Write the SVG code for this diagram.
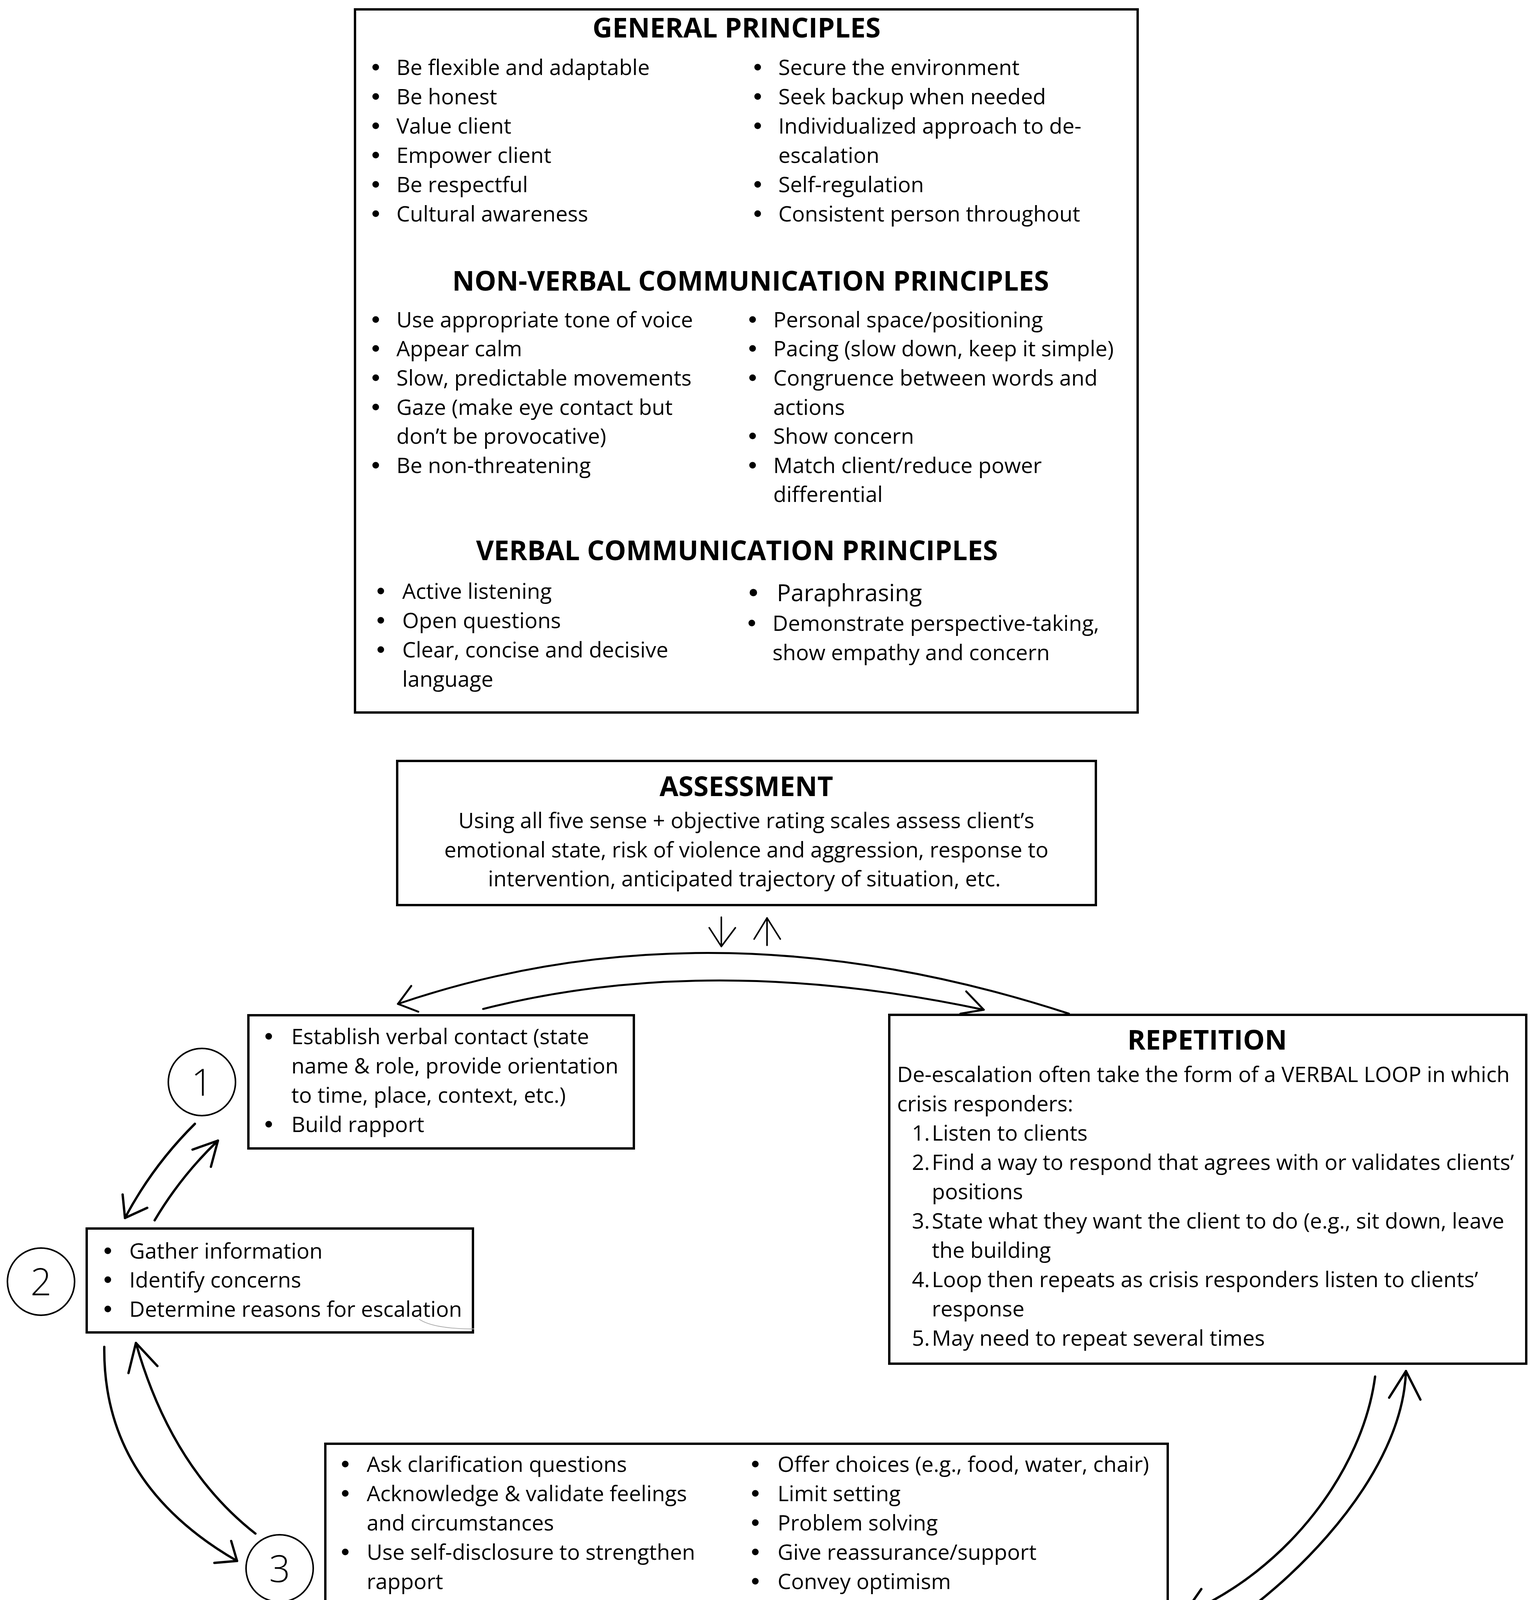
<svg xmlns="http://www.w3.org/2000/svg" width="3933" height="5285" viewBox="0 0 3933 5285">
<style>
.bg{fill:#fff}
.box{fill:#fff;stroke:#000;stroke-width:6}
text{font-family:"Open Sans","Noto Sans","Liberation Sans",sans-serif;font-size:55px;fill:#000}
.h{font-weight:bold;font-size:70px;text-anchor:middle}
.c{text-anchor:middle}
.num{font-size:95px;font-weight:300;text-anchor:middle}
.dot{fill:#000}
.circ{fill:#fff;stroke:#000;stroke-width:4}
.ln{fill:none;stroke:#000;stroke-width:6;stroke-linecap:round;stroke-linejoin:round}
.thin{fill:none;stroke:#000;stroke-width:4;stroke-linecap:round;stroke-linejoin:round}
</style>
<rect class="bg" x="0" y="0" width="3933" height="5285"/>

<g id="principles">
<rect class="box" x="909" y="24" width="2004" height="1800"/>
<text class="h" x="1886" y="96">GENERAL PRINCIPLES</text>
<circle class="dot" cx="962" cy="172" r="8.5"/><text x="1015" y="192">Be flexible and adaptable</text>
<circle class="dot" cx="962" cy="247" r="8.5"/><text x="1015" y="267">Be honest</text>
<circle class="dot" cx="962" cy="322" r="8.5"/><text x="1015" y="342">Value client</text>
<circle class="dot" cx="962" cy="397" r="8.5"/><text x="1015" y="417">Empower client</text>
<circle class="dot" cx="962" cy="472" r="8.5"/><text x="1015" y="492">Be respectful</text>
<circle class="dot" cx="962" cy="547" r="8.5"/><text x="1015" y="567">Cultural awareness</text>
<circle class="dot" cx="1940" cy="172" r="8.5"/><text x="1993" y="192">Secure the environment</text>
<circle class="dot" cx="1940" cy="247" r="8.5"/><text x="1993" y="267">Seek backup when needed</text>
<circle class="dot" cx="1940" cy="322" r="8.5"/><text x="1993" y="342">Individualized approach to de-</text>
<text x="1993" y="417">escalation</text>
<circle class="dot" cx="1940" cy="472" r="8.5"/><text x="1993" y="492">Self-regulation</text>
<circle class="dot" cx="1940" cy="547" r="8.5"/><text x="1993" y="567">Consistent person throughout</text>

<text class="h" x="1922" y="744">NON-VERBAL COMMUNICATION PRINCIPLES</text>
<circle class="dot" cx="962" cy="818" r="8.5"/><text x="1015" y="838">Use appropriate tone of voice</text>
<circle class="dot" cx="962" cy="892" r="8.5"/><text x="1015" y="912">Appear calm</text>
<circle class="dot" cx="962" cy="967" r="8.5"/><text x="1015" y="987">Slow, predictable movements</text>
<circle class="dot" cx="962" cy="1042" r="8.5"/><text x="1015" y="1062">Gaze (make eye contact but</text>
<text x="1015" y="1136">don’t be provocative)</text>
<circle class="dot" cx="962" cy="1191" r="8.5"/><text x="1015" y="1211">Be non-threatening</text>
<circle class="dot" cx="1927" cy="818" r="8.5"/><text x="1980" y="838">Personal space/positioning</text>
<circle class="dot" cx="1927" cy="892" r="8.5"/><text x="1980" y="912">Pacing (slow down, keep it simple)</text>
<circle class="dot" cx="1927" cy="967" r="8.5"/><text x="1980" y="987">Congruence between words and</text>
<text x="1980" y="1062">actions</text>
<circle class="dot" cx="1927" cy="1116" r="8.5"/><text x="1980" y="1136">Show concern</text>
<circle class="dot" cx="1927" cy="1191" r="8.5"/><text x="1980" y="1211">Match client/reduce power</text>
<text x="1980" y="1285">differential</text>

<text class="h" x="1887" y="1434">VERBAL COMMUNICATION PRINCIPLES</text>
<circle class="dot" cx="975" cy="1513" r="8.5"/><text x="1030" y="1533">Active listening</text>
<circle class="dot" cx="975" cy="1588" r="8.5"/><text x="1030" y="1608">Open questions</text>
<circle class="dot" cx="975" cy="1663" r="8.5"/><text x="1030" y="1683">Clear, concise and decisive</text>
<text x="1030" y="1758">language</text>
<circle class="dot" cx="1929" cy="1517" r="9.5"/><text x="1989" y="1539" style="font-size:60px">Paraphrasing</text>
<circle class="dot" cx="1925" cy="1595" r="8.5"/><text x="1978" y="1615">Demonstrate perspective-taking,</text>
<text x="1978" y="1690">show empathy and concern</text>
</g>

<g id="assessment">
<rect class="box" x="1017" y="1948" width="1789" height="369"/>
<text class="h" x="1911" y="2038">ASSESSMENT</text>
<text class="c" x="1911" y="2120">Using all five sense + objective rating scales assess client’s</text>
<text class="c" x="1911" y="2195">emotional state, risk of violence and aggression, response to</text>
<text class="c" x="1906" y="2269">intervention, anticipated trajectory of situation, etc.</text>
</g>

<g id="step1">
<rect class="box" x="636" y="2599" width="987" height="341"/>
<circle class="dot" cx="688" cy="2653" r="8.5"/><text x="746" y="2673">Establish verbal contact (state</text>
<text x="746" y="2748">name &amp; role, provide orientation</text>
<text x="746" y="2823">to time, place, context, etc.)</text>
<circle class="dot" cx="688" cy="2878" r="8.5"/><text x="746" y="2898">Build rapport</text>
</g>
<g id="circle1">
<circle class="circ" cx="517" cy="2770" r="86"/>
<text class="num" x="517" y="2805">1</text>
</g>

<g id="step2">
<rect class="box" x="222" y="3145" width="989" height="266"/>
<circle class="dot" cx="276" cy="3202" r="8.5"/><text x="331" y="3222">Gather information</text>
<circle class="dot" cx="276" cy="3276" r="8.5"/><text x="331" y="3296">Identify concerns</text>
<circle class="dot" cx="276" cy="3351" r="8.5"/><text x="331" y="3371">Determine reasons for escalation</text>
<path d="M1073,3377 Q1110,3402 1214,3402" fill="none" stroke="#aaa" stroke-width="2"/>
</g>
<g id="circle2">
<circle class="circ" cx="105" cy="3281" r="86"/>
<text class="num" x="105" y="3316">2</text>
</g>

<g id="repetition">
<rect class="box" x="2277" y="2598" width="1631" height="893"/>
<text class="h" x="3091" y="2687">REPETITION</text>
<text x="2297" y="2770">De-escalation often take the form of a VERBAL LOOP in which</text>
<text x="2297" y="2845">crisis responders:</text>
<text x="2335" y="2920">1.</text><text x="2386" y="2920">Listen to clients</text>
<text x="2335" y="2995">2.</text><text x="2386" y="2995">Find a way to respond that agrees with or validates clients’</text>
<text x="2386" y="3070">positions</text>
<text x="2335" y="3145">3.</text><text x="2386" y="3145">State what they want the client to do (e.g., sit down, leave</text>
<text x="2386" y="3220">the building</text>
<text x="2335" y="3295">4.</text><text x="2386" y="3295">Loop then repeats as crisis responders listen to clients’</text>
<text x="2386" y="3370">response</text>
<text x="2335" y="3445">5.</text><text x="2386" y="3445">May need to repeat several times</text>
</g>

<g id="step3">
<rect class="box" x="833" y="3696" width="2157" height="635"/>
<circle class="dot" cx="884" cy="3748" r="8.5"/><text x="939" y="3768">Ask clarification questions</text>
<circle class="dot" cx="884" cy="3823" r="8.5"/><text x="939" y="3843">Acknowledge &amp; validate feelings</text>
<text x="939" y="3918">and circumstances</text>
<circle class="dot" cx="884" cy="3973" r="8.5"/><text x="939" y="3993">Use self-disclosure to strengthen</text>
<text x="939" y="4068">rapport</text>
<circle class="dot" cx="884" cy="4123" r="8.5"/><text x="939" y="4143">Agree when possible or agree to</text>
<text x="939" y="4218">disagree; fogging</text>
<circle class="dot" cx="884" cy="4273" r="8.5"/><text x="939" y="4293">Redirection/distraction</text>
<circle class="dot" cx="1934" cy="3748" r="8.5"/><text x="1991" y="3768">Offer choices (e.g., food, water, chair)</text>
<circle class="dot" cx="1934" cy="3823" r="8.5"/><text x="1991" y="3843">Limit setting</text>
<circle class="dot" cx="1934" cy="3898" r="8.5"/><text x="1991" y="3918">Problem solving</text>
<circle class="dot" cx="1934" cy="3973" r="8.5"/><text x="1991" y="3993">Give reassurance/support</text>
<circle class="dot" cx="1934" cy="4048" r="8.5"/><text x="1991" y="4068">Convey optimism</text>
<circle class="dot" cx="1934" cy="4123" r="8.5"/><text x="1991" y="4143">Coaching &amp; guidance</text>
<circle class="dot" cx="1934" cy="4198" r="8.5"/><text x="1991" y="4218">Use humour</text>
<circle class="dot" cx="1934" cy="4273" r="8.5"/><text x="1991" y="4293">Therapeutic lies</text>
</g>
<g id="circle3">
<circle class="circ" cx="716" cy="4015" r="86"/>
<text class="num" x="716" y="4050">3</text>
</g>

<g id="goal">
<rect class="box" x="832" y="4550" width="2158" height="311"/>
<text class="h" x="1905" y="4649">GOAL</text>
<circle class="dot" cx="887" cy="4712" r="8.5"/><text x="940" y="4732">Enable agitated clients to rapidly develop their own internal locus of control</text>
<circle class="dot" cx="887" cy="4787" r="8.5"/><text x="940" y="4807">Consider objectives and interests of client + crisis responder</text>
</g>

<g id="debrief">
<rect class="box" x="1547" y="5073" width="729" height="194"/>
<circle class="dot" cx="1603" cy="5130" r="8.5"/><text x="1658" y="5150">Debrief with client and</text>
<text x="1658" y="5225">staff when possible</text>
</g>

<g id="connectors">
<line class="thin" x1="1847" y1="2348" x2="1847" y2="2423"/>
<polyline class="thin" points="1816,2375 1847,2423 1883,2375"/>
<line class="thin" x1="1964" y1="2420" x2="1964" y2="2350"/>
<polyline class="thin" points="1931,2404 1964,2350 1998,2404"/>
<path class="ln" style="stroke-width:5" d="M2737,2595 Q1822,2297 1019,2570"/>
<polyline class="ln" style="stroke-width:5" points="1053,2524 1019,2570 1071,2590"/>
<path class="ln" style="stroke-width:5" d="M1237,2583 Q1816,2436 2519,2585"/>
<polyline class="ln" style="stroke-width:5" points="2474,2538 2519,2585 2459,2595"/>
<path class="ln" d="M499,2877 Q391,2984 320,3118"/>
<polyline class="ln" points="314,3058 320,3118 377,3092"/>
<path class="ln" d="M396,3124 Q463,3011 558,2920"/>
<polyline class="ln" points="493,2943 558,2920 540,2987"/>
<path class="ln" d="M267,3448 Q263,3798 607,3996"/>
<polyline class="ln" points="549,4001 607,3996 592,3945"/>
<path class="ln" d="M654,3926 Q439,3758 348,3438"/>
<polyline class="ln" points="329,3515 348,3438 403,3497"/>
<path class="ln" d="M3521,3524 C3490,3760 3300,4020 3030,4134"/>
<polyline class="ln" points="3076,4068 3030,4134 3103,4142"/>
<path class="ln" d="M3030,4228 C3260,4110 3590,3800 3600,3510"/>
<polyline class="ln" points="3557,3578 3600,3510 3637,3583"/>
<line class="thin" x1="1915" y1="4336" x2="1918" y2="4526"/>
<polyline class="thin" points="1887,4461 1918,4526 1955,4461"/>
<line class="thin" x1="1924" y1="4885" x2="1924" y2="5052"/>
<polyline class="thin" points="1886,4998 1924,5052 1961,4997"/>
</g>
</svg>
